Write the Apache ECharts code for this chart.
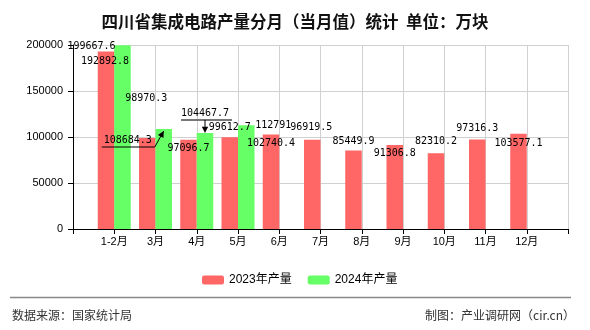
<!DOCTYPE html>
<html>
<head>
<meta charset="utf-8">
<script src="https://cdn.jsdelivr.net/npm/echarts@6/dist/echarts.min.js"></script>
<style>
html,body{margin:0;padding:0;background:#fff;}
#main{width:590px;height:330px;}
</style>
</head>
<body>
<div id="main"></div>
<script>
var categories = ['1-2月','3月','4月','5月','6月','7月','8月','9月','10月','11月','12月'];
var values2023 = [192892.8, 98970.3, 97096.7, 99612.7, 102740.4, 96919.5, 85449.9, 91306.8, 82310.2, 97316.3, 103577.1];
var values2024 = [199667.6, 108684.3, 104467.7, 112791];
var yTicks = [0, 50000, 100000, 150000, 200000];
var seriesNames = ['2023年产量', '2024年产量'];

// label placement (styling only, not data)
var off2023 = [[-1,20],[-1,-30],[0,19],[0,0],[0,19],[-1,-2],[0,1],[0,18],[0,-2],[0,-1],[0,20]];
var off2024 = [[-31,11],[-36,21],[0,-9],[27,10]];

var BAR_W = 16.5;
var axisData = [''].concat(categories).concat(['']);
function padData(vals){
  var out = [null];
  for (var i = 0; i < categories.length; i++) out.push(i < vals.length ? vals[i] : null);
  out.push(null);
  return out;
}
function layoutFn(offs){
  return function(p){
    var i = p.dataIndex - 1;
    if (offs[i]) return {dx: offs[i][0], dy: offs[i][1]};
    return {};
  };
}

var chart = echarts.init(document.getElementById('main'), null, {renderer:'canvas'});
var labelStyle = {show:true, position:'top', distance:5, color:'#000', fontSize:10, fontFamily:'"DejaVu Sans Mono", "Liberation Mono", monospace'};
var option = {
  animation:false,
  title:{text:'四川省集成电路产量分月（当月值）统计  单位：万块', left:'center', top:8,
    textStyle:{fontSize:16.5, fontWeight:'bold', color:'#111', fontFamily:'"Noto Sans CJK SC", sans-serif'}},
  grid:{left:73, right:22, top:45, bottom:101, containLabel:false},
  legend:{left:197, top:269, itemWidth:22, itemHeight:9, itemGap:16,
    textStyle:{fontSize:12, color:'#000', fontFamily:'"Liberation Sans", "Noto Sans CJK SC", sans-serif'},
    data:seriesNames},
  xAxis:{type:'category', data:axisData, boundaryGap:false,
    axisLine:{lineStyle:{color:'#000', width:1}},
    axisTick:{show:true, length:5, lineStyle:{color:'#000'}},
    axisLabel:{color:'#000', fontSize:11, margin:7, interval:0, fontFamily:'"Liberation Sans", "Noto Sans CJK SC", sans-serif'},
    splitLine:{show:true, lineStyle:{color:'#d0d0d0', width:1}}},
  yAxis:{type:'value', min:yTicks[0], max:yTicks[yTicks.length-1], interval:yTicks[1]-yTicks[0],
    axisLine:{show:true, lineStyle:{color:'#000'}},
    axisTick:{show:true, length:5, lineStyle:{color:'#000'}},
    axisLabel:{color:'#000', fontSize:11, margin:10, formatter:function(v){return String(v);}, fontFamily:'"Liberation Sans", sans-serif'},
    splitLine:{show:true, lineStyle:{color:'#d0d0d0', width:1}}},
  series:[
    {name:seriesNames[0], type:'bar', barWidth:BAR_W, barGap:'0%', itemStyle:{color:'#ff6666'},
     label:labelStyle, labelLayout:layoutFn(off2023), data:padData(values2023)},
    {name:seriesNames[1], type:'bar', barWidth:BAR_W, barGap:'0%', itemStyle:{color:'#66ff66'},
     label:labelStyle, labelLayout:layoutFn(off2024), data:padData(values2024)}
  ],
  graphic:[
    {type:'line', shape:{x1:10, y1:297.5, x2:571, y2:297.5}, style:{stroke:'#888', lineWidth:1.5}, silent:true},
    {type:'text', left:12, top:309, style:{text:'数据来源：国家统计局', fill:'#333', fontSize:12, fontFamily:'"Noto Sans CJK SC", sans-serif'}},
    {type:'text', right:15, top:309, style:{text:'制图：产业调研网（cir.cn）', fill:'#333', fontSize:12, fontFamily:'"Noto Sans CJK SC", sans-serif'}}
  ]
};
chart.setOption(option);

// leader lines with arrows for two 2024 labels, positioned from the library's scales
function arrowHead(tx, ty, fx, fy, size){
  var ang = Math.atan2(ty - fy, tx - fx);
  var a1 = ang + Math.PI * 0.85, a2 = ang - Math.PI * 0.85;
  return [[tx, ty], [tx + size*Math.cos(a1), ty + size*Math.sin(a1)], [tx + size*Math.cos(a2), ty + size*Math.sin(a2)]];
}
var extra = [];
function barTop2024(i){
  var p = chart.convertToPixel({gridIndex:0}, [i + 1, values2024[i]]);
  return [p[0] + BAR_W/2, p[1]];
}
// 3月 (index 1): underline + diagonal arrow
(function(){
  var i = 1, b = barTop2024(i);
  var lx = b[0] + off2024[i][0], ly = b[1] - 11 + off2024[i][1];
  var halfW = String(values2024[i]).length * 3;
  var uy = ly + 8;
  var x0 = lx - halfW - 2, x1 = lx + halfW + 3;
  var tip = [b[0], b[1] + 2];
  extra.push({type:'polyline', shape:{points:[[x0,uy],[x1,uy],tip]}, style:{stroke:'#000', lineWidth:1, fill:null}, silent:true, z:100});
  extra.push({type:'polygon', shape:{points:arrowHead(tip[0], tip[1], x1, uy, 7)}, style:{fill:'#000'}, silent:true, z:100});
})();
// 4月 (index 2): gray bar under label + vertical arrow
(function(){
  var i = 2, b = barTop2024(i);
  var lx = b[0] + off2024[i][0], ly = b[1] - 11 + off2024[i][1];
  var halfW = String(values2024[i]).length * 3;
  var uy = ly + 7;
  extra.push({type:'line', shape:{x1:lx - halfW, y1:uy, x2:lx + halfW + 3, y2:uy}, style:{stroke:'#777', lineWidth:2}, silent:true, z:100});
  var tip = [b[0], b[1]];
  extra.push({type:'line', shape:{x1:tip[0], y1:uy, x2:tip[0], y2:tip[1] - 3}, style:{stroke:'#000', lineWidth:1}, silent:true, z:100});
  extra.push({type:'polygon', shape:{points:arrowHead(tip[0], tip[1], tip[0], uy, 7)}, style:{fill:'#000'}, silent:true, z:100});
})();
chart.setOption({graphic: option.graphic.concat(extra)});
</script>
</body>
</html>
